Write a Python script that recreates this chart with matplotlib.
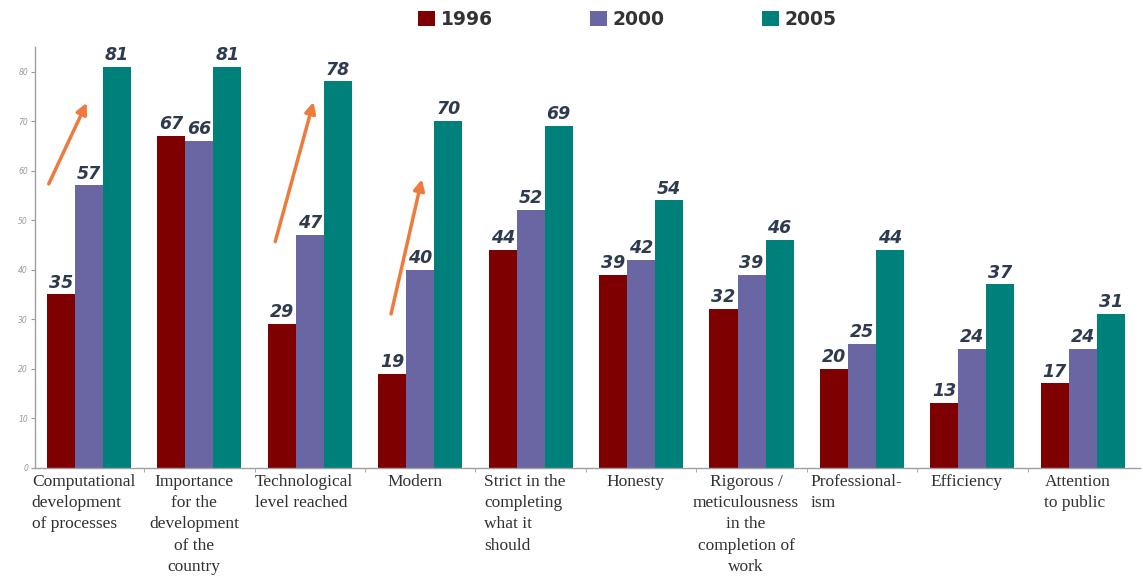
import matplotlib.pyplot as plt
import numpy as np

categories = [
    "Computational\ndevelopment\nof processes",
    "Importance\nfor the\ndevelopment\nof the\ncountry",
    "Technological\nlevel reached",
    "Modern",
    "Strict in the\ncompleting\nwhat it\nshould",
    "Honesty",
    "Rigorous /\nmeticulousness\nin the\ncompletion of\nwork",
    "Professional-\nism",
    "Efficiency",
    "Attention\nto public",
]
label_align = ["left", "center", "left", "left", "left",
               "left", "center", "left", "left", "left"]

years = ["1996", "2000", "2005"]
v1996 = [35, 67, 29, 19, 44, 39, 32, 20, 13, 17]
v2000 = [57, 66, 47, 40, 52, 42, 39, 25, 24, 24]
v2005 = [81, 81, 78, 70, 69, 54, 46, 44, 37, 31]
colors = ["#7F0000", "#6A66A3", "#00807A"]

# trend arrows over the first, third and fourth groups: (x0, y0, x1, y1)
arrows = [(-0.375, 56.8, -0.01, 74.2),
          (1.68, 45.1, 2.04, 74.4),
          (2.73, 30.5, 3.02, 58.8)]

fig = plt.figure(figsize=(11.43, 5.78), dpi=100)
ax = fig.add_axes([0.0306, 0.191, 0.967, 0.728])

x = np.arange(len(categories))
w = 0.254
for i, (vals, c) in enumerate(zip([v1996, v2000, v2005], colors)):
    bars = ax.bar(x + (i - 1) * w, vals, w, color=c, edgecolor="none",
                  label=years[i])
    for b, v in zip(bars, vals):
        ax.annotate(str(v), (b.get_x() + b.get_width() / 2, v),
                    xytext=(0, 2), textcoords="offset points",
                    ha="center", va="bottom", fontsize=12.5,
                    fontweight="bold", style="italic", color="#2E3B4E")

for x0, y0, x1, y1 in arrows:
    ax.annotate("", xy=(x1, y1), xytext=(x0, y0),
                arrowprops=dict(arrowstyle="-|>", color="#EE7A3B", lw=2.5,
                                mutation_scale=16))

ax.set_xlim(-0.489, 9.52)
ax.set_ylim(0, 85)
ax.set_yticks(range(0, 81, 10))
ax.tick_params(axis="y", labelsize=5.5, colors="#9A9A9A", length=3,
               width=0.8, pad=2)
for t in ax.get_yticklabels():
    t.set_style("italic")
ax.set_xticks(x[:-1] + 0.5)
ax.tick_params(axis="x", length=3, color="#AAAAAA", labelbottom=False)
for s in ["top", "right"]:
    ax.spines[s].set_visible(False)
for s in ["left", "bottom"]:
    ax.spines[s].set_color("#A0A0A0")
    ax.spines[s].set_linewidth(1.0)

for xi, lab, al in zip(x, categories, label_align):
    ax.text(xi - 0.05, -1.2, lab, ha="center", va="top", multialignment=al,
            fontsize=12.5, family="Liberation Serif", color="#303030",
            linespacing=1.45)

leg = fig.legend(loc="upper center", bbox_to_anchor=(0.549, 1.012), ncol=3,
                 frameon=False, handlelength=0.9, handleheight=0.9,
                 handletextpad=0.3, columnspacing=5.2,
                 prop=dict(size=13.5, weight="bold"))
for t in leg.get_texts():
    t.set_color("#333333")

fig.savefig("out.png", dpi=100)
